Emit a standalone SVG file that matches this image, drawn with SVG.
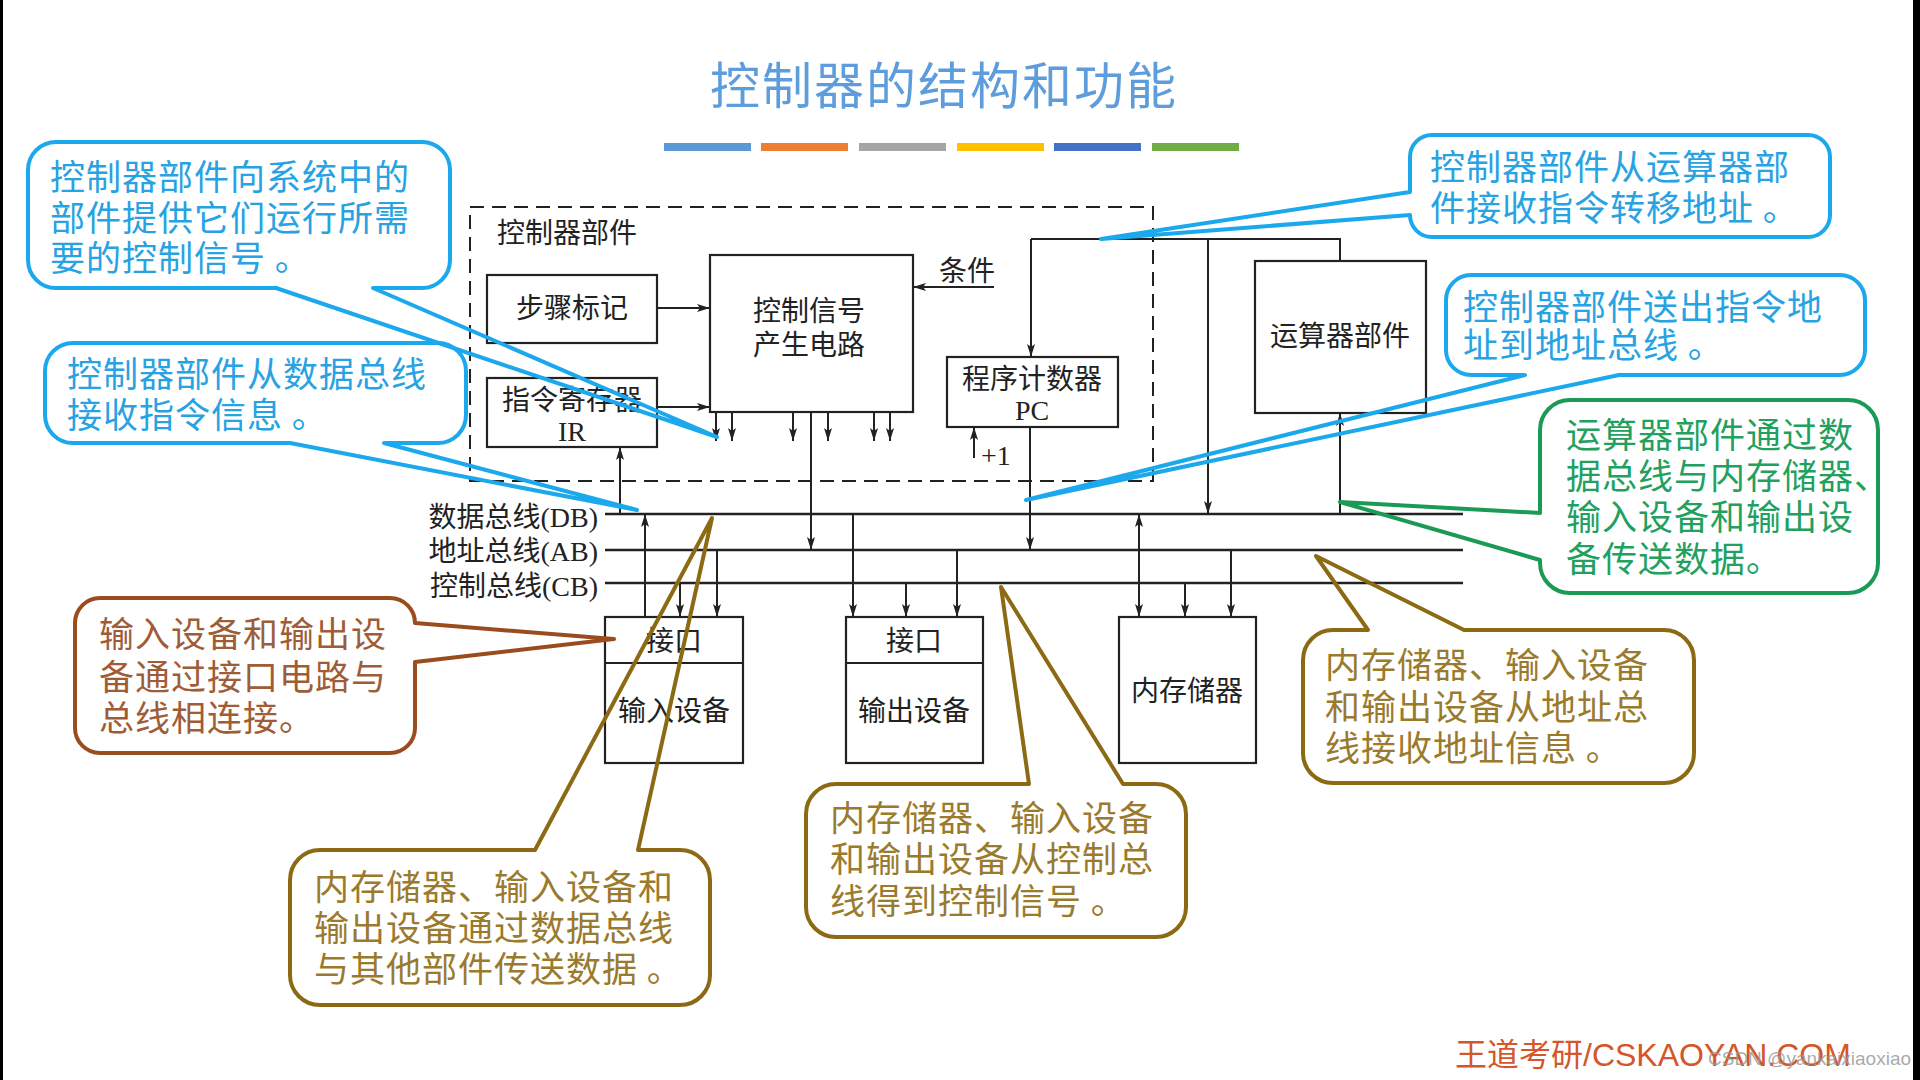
<svg xmlns="http://www.w3.org/2000/svg" width="1920" height="1080" viewBox="0 0 1920 1080">
<style>
.box{fill:none;stroke:#222;stroke-width:2.2}
.ln{fill:none;stroke:#222;stroke-width:2}
.bus{fill:none;stroke:#222;stroke-width:2.6}
.arr{marker-end:url(#ah)}
.dbl{marker-start:url(#ah);marker-end:url(#ah)}
.lbl{font-family:"Liberation Serif","Noto Sans CJK SC",serif;font-size:28px;fill:#222}
.mid{text-anchor:middle}
.ct{font-family:"Noto Sans CJK SC","Noto Sans",sans-serif;font-size:35px;letter-spacing:1px}
.cb{fill:none;stroke:#1ba8ec;stroke-width:4;stroke-linejoin:round}
.cbt{fill:#27a2e2}
.cg{fill:none;stroke:#1b9a55;stroke-width:4;stroke-linejoin:round}
.cgt{fill:#22a05e}
.co{fill:none;stroke:#8c6a14;stroke-width:4;stroke-linejoin:round}
.cot{fill:#9a7a2c}
.cr{fill:none;stroke:#9a4c1e;stroke-width:4;stroke-linejoin:round}
.crt{fill:#a05c36}
</style>
<defs>
<marker id="ah" markerUnits="userSpaceOnUse" markerWidth="14" markerHeight="8" refX="13" refY="4" orient="auto-start-reverse">
<path d="M0,0 L13,4 L0,8 L3,4 z" fill="#222"/>
</marker>
</defs>
<rect x="0" y="0" width="1920" height="1080" fill="#fff"/>
<rect x="0" y="0" width="3" height="1080" fill="#000"/>
<rect x="1913" y="0" width="7" height="1080" fill="#000"/>

<g id="title">
<text x="944" y="104" text-anchor="middle" font-family="'Noto Sans CJK SC',sans-serif" font-size="50" letter-spacing="2" fill="#5d9ddb">控制器的结构和功能</text>
<rect x="664" y="143" width="87" height="8" fill="#5b9bd5"/>
<rect x="761" y="143" width="87" height="8" fill="#ed7d31"/>
<rect x="859" y="143" width="87" height="8" fill="#a5a5a5"/>
<rect x="957" y="143" width="87" height="8" fill="#ffc000"/>
<rect x="1054" y="143" width="87" height="8" fill="#4472c4"/>
<rect x="1152" y="143" width="87" height="8" fill="#70ad47"/>
</g>

<g id="controller-unit">
<rect x="470" y="207" width="683" height="274" fill="none" stroke="#222" stroke-width="2" stroke-dasharray="14 8"/>
<text class="lbl" x="497" y="243">控制器部件</text>
</g>
<g id="step-marker">
<rect class="box" x="487" y="275" width="170" height="68"/>
<text class="lbl mid" x="572" y="318">步骤标记</text>
</g>
<g id="ir">
<rect class="box" x="487" y="378" width="170" height="69"/>
<text class="lbl mid" x="572" y="410">指令寄存器</text>
<text class="lbl mid" x="572" y="441">IR</text>
</g>
<g id="csg">
<rect class="box" x="710" y="255" width="203" height="157"/>
<text class="lbl mid" x="809" y="321">控制信号</text>
<text class="lbl mid" x="809" y="355">产生电路</text>
</g>
<g id="condition">
<text class="lbl" x="939" y="281">条件</text>
</g>
<g id="pc">
<rect class="box" x="947" y="357" width="171" height="70"/>
<text class="lbl mid" x="1032" y="389">程序计数器</text>
<text class="lbl mid" x="1032" y="420">PC</text>
<text class="lbl" x="981" y="465" font-size="24">+1</text>
</g>
<g id="alu">
<rect class="box" x="1255" y="261" width="171" height="152"/>
<text class="lbl mid" x="1340" y="346">运算器部件</text>
</g>
<g id="input-device">
<rect class="box" x="605" y="617" width="138" height="146"/>
<line class="box" x1="605" y1="663" x2="743" y2="663"/>
<text class="lbl mid" x="674" y="651">接口</text>
<text class="lbl mid" x="674" y="721">输入设备</text>
</g>
<g id="output-device">
<rect class="box" x="846" y="617" width="137" height="146"/>
<line class="box" x1="846" y1="663" x2="983" y2="663"/>
<text class="lbl mid" x="914" y="651">接口</text>
<text class="lbl mid" x="914" y="721">输出设备</text>
</g>
<g id="memory">
<rect class="box" x="1119" y="617" width="137" height="146"/>
<text class="lbl mid" x="1187" y="701">内存储器</text>
</g>
<g id="buses">
<line class="bus" x1="605" y1="514" x2="1463" y2="514"/>
<line class="bus" x1="605" y1="550" x2="1463" y2="550"/>
<line class="bus" x1="605" y1="583" x2="1463" y2="583"/>
<text class="lbl" x="598" y="527" text-anchor="end">数据总线(DB)</text>
<text class="lbl" x="598" y="561" text-anchor="end">地址总线(AB)</text>
<text class="lbl" x="598" y="596" text-anchor="end">控制总线(CB)</text>
</g>

<g id="connectors">
<line class="ln arr" x1="657" y1="308" x2="710" y2="308"/>
<line class="ln arr" x1="657" y1="407" x2="710" y2="407"/>
<line class="ln arr" x1="994" y1="287" x2="913" y2="287"/>
<line class="ln arr" x1="716" y1="412" x2="716" y2="441"/>
<line class="ln arr" x1="732" y1="412" x2="732" y2="441"/>
<line class="ln arr" x1="793" y1="412" x2="793" y2="441"/>
<line class="ln arr" x1="828" y1="412" x2="828" y2="441"/>
<line class="ln arr" x1="874" y1="412" x2="874" y2="441"/>
<line class="ln arr" x1="890" y1="412" x2="890" y2="441"/>
<line class="ln arr" x1="811" y1="412" x2="811" y2="550"/>
<line class="ln arr" x1="620" y1="514" x2="620" y2="447"/>
<polyline class="ln" points="1031,239 1340,239 1340,261"/>
<line class="ln arr" x1="1031" y1="239" x2="1031" y2="357"/>
<line class="ln arr" x1="1208" y1="239" x2="1208" y2="514"/>
<line class="ln arr" x1="974" y1="458" x2="974" y2="427"/>
<line class="ln arr" x1="1030" y1="427" x2="1030" y2="550"/>
<line class="ln arr" x1="1340" y1="514" x2="1340" y2="413"/>
<line class="ln arr" x1="645" y1="617" x2="645" y2="514"/>
<line class="ln arr" x1="680" y1="583" x2="680" y2="617"/>
<line class="ln arr" x1="717" y1="550" x2="717" y2="617"/>
<line class="ln arr" x1="853" y1="514" x2="853" y2="617"/>
<line class="ln arr" x1="906" y1="583" x2="906" y2="617"/>
<line class="ln arr" x1="957" y1="550" x2="957" y2="617"/>
<line class="ln dbl" x1="1139" y1="514" x2="1139" y2="617"/>
<line class="ln arr" x1="1185" y1="583" x2="1185" y2="617"/>
<line class="ln arr" x1="1231" y1="550" x2="1231" y2="617"/>
</g>

<g id="callout-control-signals">
<path class="cb" d="M56,142 H422 A28,28 0 0 1 450,170 V260 A28,28 0 0 1 422,288 H373 L717,437 L276,288 H56 A28,28 0 0 1 28,260 V170 A28,28 0 0 1 56,142 Z"/>
<text class="ct cbt" x="50" y="190">控制器部件向系统中的</text>
<text class="ct cbt" x="50" y="231">部件提供它们运行所需</text>
<text class="ct cbt" x="50" y="271">要的控制信号 。</text>
</g>
<g id="callout-db-instruction">
<path class="cb" d="M73,343 H438 A28,28 0 0 1 466,371 V415 A28,28 0 0 1 438,443 H384 L637,510 L290,443 H73 A28,28 0 0 1 45,415 V371 A28,28 0 0 1 73,343 Z"/>
<text class="ct cbt" x="67" y="387">控制器部件从数据总线</text>
<text class="ct cbt" x="67" y="428">接收指令信息 。</text>
</g>
<g id="callout-alu-branch">
<path class="cb" d="M1432,135 H1808 A22,22 0 0 1 1830,157 V215 A22,22 0 0 1 1808,237 H1432 A22,22 0 0 1 1410,215 L1101,239 L1410,192 V157 A22,22 0 0 1 1432,135 Z"/>
<text class="ct cbt" x="1430" y="180">控制器部件从运算器部</text>
<text class="ct cbt" x="1430" y="221">件接收指令转移地址 。</text>
</g>
<g id="callout-address-out">
<path class="cb" d="M1471,275 H1840 A25,25 0 0 1 1865,300 V350 A25,25 0 0 1 1840,375 H1619 L1026,500 L1525,375 H1471 A25,25 0 0 1 1446,350 V300 A25,25 0 0 1 1471,275 Z"/>
<text class="ct cbt" x="1463" y="320">控制器部件送出指令地</text>
<text class="ct cbt" x="1463" y="358">址到地址总线 。</text>
</g>
<g id="callout-alu-data">
<path class="cg" d="M1570,400 H1848 A30,30 0 0 1 1878,430 V563 A30,30 0 0 1 1848,593 H1570 A30,30 0 0 1 1540,563 V560 L1340,502 L1540,513 V430 A30,30 0 0 1 1570,400 Z"/>
<text class="ct cgt" x="1566" y="448">运算器部件通过数</text>
<text class="ct cgt" x="1566" y="489">据总线与内存储器、</text>
<text class="ct cgt" x="1566" y="530">输入设备和输出设</text>
<text class="ct cgt" x="1566" y="572">备传送数据。</text>
</g>
<g id="callout-interface">
<path class="cr" d="M100,598 H390 A25,25 0 0 1 415,623 L614,639 L415,662 V728 A25,25 0 0 1 390,753 H100 A25,25 0 0 1 75,728 V623 A25,25 0 0 1 100,598 Z"/>
<text class="ct crt" x="99" y="647">输入设备和输出设</text>
<text class="ct crt" x="99" y="690">备通过接口电路与</text>
<text class="ct crt" x="99" y="731">总线相连接。</text>
</g>
<g id="callout-data-bus">
<path class="co" d="M320,850 H535 L712,518 L638,850 H680 A30,30 0 0 1 710,880 V975 A30,30 0 0 1 680,1005 H320 A30,30 0 0 1 290,975 V880 A30,30 0 0 1 320,850 Z"/>
<text class="ct cot" x="314" y="900">内存储器、输入设备和</text>
<text class="ct cot" x="314" y="941">输出设备通过数据总线</text>
<text class="ct cot" x="314" y="982">与其他部件传送数据 。</text>
</g>
<g id="callout-control-bus">
<path class="co" d="M836,784 H1029 L1001,587 L1123,784 H1156 A30,30 0 0 1 1186,814 V907 A30,30 0 0 1 1156,937 H836 A30,30 0 0 1 806,907 V814 A30,30 0 0 1 836,784 Z"/>
<text class="ct cot" x="830" y="831">内存储器、输入设备</text>
<text class="ct cot" x="830" y="872">和输出设备从控制总</text>
<text class="ct cot" x="830" y="914">线得到控制信号 。</text>
</g>
<g id="callout-address-bus">
<path class="co" d="M1333,630 H1368 L1316,556 L1464,630 H1664 A30,30 0 0 1 1694,660 V753 A30,30 0 0 1 1664,783 H1333 A30,30 0 0 1 1303,753 V660 A30,30 0 0 1 1333,630 Z"/>
<text class="ct cot" x="1325" y="678">内存储器、输入设备</text>
<text class="ct cot" x="1325" y="720">和输出设备从地址总</text>
<text class="ct cot" x="1325" y="761">线接收地址信息 。</text>
</g>

<g id="footer">
<text x="1455" y="1066" font-family="'Liberation Sans','Noto Sans CJK SC',sans-serif" font-size="32" fill="#d4562a">王道考研/CSKAOYAN.COM</text>
<text x="1708" y="1065" font-family="'Liberation Sans',sans-serif" font-size="19" fill="#9a9a9a" fill-opacity="0.85">CSDN @yankaixiaoxiao</text>
</g>
</svg>
